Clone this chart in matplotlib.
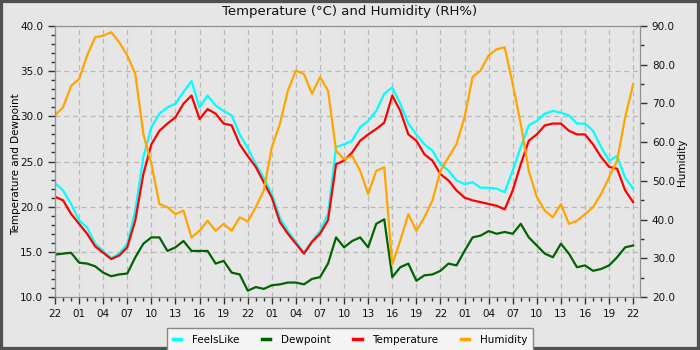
import matplotlib
matplotlib.use('Agg')
import matplotlib.pyplot as plt
from matplotlib.lines import Line2D
from matplotlib.patches import Rectangle
from matplotlib.ticker import MultipleLocator, FormatStrFormatter

# hours since 22:00 on the first day, one reading per hour
hours = list(range(73))

feelslike = [22.6, 21.8, 20.3, 18.5, 17.7, 15.9, 15.1, 14.3, 14.8, 15.9,
             19.6, 25.5, 28.8, 30.3, 31.0, 31.4, 32.7, 33.9, 31.0, 32.3,
             31.2, 30.6, 30.1, 28.0, 26.5, 24.7, 23.2, 21.4, 18.8, 17.3,
             16.1, 14.9, 16.2, 17.3, 19.2, 26.6, 26.9, 27.3, 28.8, 29.5,
             30.6, 32.5, 33.2, 31.4, 29.2, 28.0, 26.9, 26.2, 24.7, 24.0,
             22.9, 22.5, 22.7, 22.1, 22.1, 22.0, 21.6, 24.0, 26.6, 29.0,
             29.5, 30.3, 30.6, 30.4, 30.1, 29.2, 29.2, 28.4, 26.6, 25.1,
             25.6, 23.2, 22.0]

dewpoint = [14.7, 14.8, 14.9, 13.8, 13.7, 13.4, 12.7, 12.3, 12.5, 12.6,
            14.4, 15.9, 16.6, 16.6, 15.1, 15.5, 16.2, 15.1, 15.1, 15.1,
            13.7, 14.0, 12.7, 12.5, 10.7, 11.1, 10.9, 11.3, 11.4, 11.6,
            11.6, 11.4, 12.0, 12.2, 13.7, 16.6, 15.5, 16.2, 16.6, 15.5,
            18.1, 18.6, 12.2, 13.3, 13.7, 11.8, 12.4, 12.5, 12.9, 13.7,
            13.5, 15.1, 16.6, 16.8, 17.3, 17.0, 17.2, 17.0, 18.1, 16.6,
            15.7, 14.8, 14.4, 15.9, 14.8, 13.3, 13.5, 12.9, 13.1, 13.5,
            14.4, 15.5, 15.7]

temperature = [21.1, 20.7, 19.2, 18.1, 17.0, 15.6, 14.9, 14.2, 14.6, 15.5,
               18.5, 23.6, 26.9, 28.4, 29.2, 29.9, 31.4, 32.3, 29.7, 30.8,
               30.3, 29.2, 29.0, 26.9, 25.6, 24.4, 22.7, 21.0, 18.3, 17.0,
               15.9, 14.8, 16.1, 17.0, 18.5, 24.7, 25.1, 26.0, 27.3, 28.0,
               28.6, 29.3, 32.3, 30.6, 28.0, 27.3, 25.8, 25.1, 23.6, 22.9,
               21.8, 21.0, 20.7, 20.5, 20.3, 20.1, 19.7, 21.8, 24.7, 27.3,
               28.0, 29.0, 29.2, 29.2, 28.4, 28.0, 28.0, 26.9, 25.5, 24.4,
               24.2, 21.8, 20.5]

humidity = [66.9, 69.0, 74.5, 76.3, 82.4, 87.1, 87.5, 88.4, 85.8, 82.4,
            77.6, 62.1, 54.4, 44.0, 43.2, 41.4, 42.3, 35.4, 37.1, 39.7,
            37.1, 38.9, 37.1, 40.6, 39.5, 43.2, 47.5, 58.7, 64.7, 73.3,
            78.5, 77.6, 72.5, 76.8, 73.3, 57.8, 55.5, 56.5, 52.6, 46.6,
            52.6, 53.5, 28.5, 34.6, 41.4, 37.1, 40.6, 44.9, 52.6, 56.1,
            59.5, 66.4, 76.8, 78.5, 82.4, 84.0, 84.5, 75.0, 64.7, 52.6,
            45.8, 42.3, 40.6, 44.0, 38.9, 39.7, 41.4, 43.2, 46.6, 50.9,
            55.2, 66.4, 75.0]

hour_labels = ['22', '01', '04', '07', '10', '13', '16', '19'] * 3 + ['22']

bg = '#e6e6e6'
fig = plt.figure(figsize=(7, 3.5), dpi=100)
fig.patch.set_facecolor(bg)

ax = fig.add_axes([0.0786, 0.1514, 0.8357, 0.7743])
ax.set_facecolor(bg)
ax.plot(hours, feelslike, color='#00ffff', lw=1.6)
ax.plot(hours, dewpoint, color='#006400', lw=1.6)
ax.plot(hours, temperature, color='#ff0000', lw=1.6)

ax2 = ax.twinx()
ax2.plot(hours, humidity, color='#ffa500', lw=1.6)

ax.set_xlim(0, 72.85)
ax.set_ylim(10, 40)
ax2.set_ylim(20, 90)

ax.set_xticks(range(0, 73, 3))
ax.set_xticklabels(hour_labels)
ax.xaxis.set_minor_locator(MultipleLocator(1))
ax.yaxis.set_major_locator(MultipleLocator(5))
ax.yaxis.set_minor_locator(MultipleLocator(1))
ax.yaxis.set_major_formatter(FormatStrFormatter('%.1f'))
ax2.yaxis.set_major_locator(MultipleLocator(10))
ax2.yaxis.set_minor_locator(MultipleLocator(5))
ax2.yaxis.set_major_formatter(FormatStrFormatter('%.1f'))

for a in (ax, ax2):
    a.tick_params(which='major', length=5, width=1, color='#333333', labelsize=7.5, labelcolor='#111111')
    a.tick_params(which='minor', length=3, width=1, color='#333333')
    for s in a.spines.values():
        s.set_color('#909090')

ax.grid(True, which='major', color='#b8b8b8', linestyle=(0, (4, 3)), linewidth=0.9)

fig.text(0.5, 0.966, 'Temperature (°C) and Humidity (RH%)', ha='center', va='center', fontsize=9.5, color='#111111')
fig.text(0.023, 0.53, 'Temperature and Dewpoint', rotation=90, ha='center', va='center', fontsize=7.5)
fig.text(0.974, 0.537, 'Humidity', rotation=90, ha='center', va='center', fontsize=7.5)

handles = [Line2D([], [], color=c, lw=2.5) for c in ['#00ffff', '#006400', '#ff0000', '#ffa500']]
leg = fig.legend(handles, ['FeelsLike', 'Dewpoint', 'Temperature', 'Humidity'],
                 loc='upper center', bbox_to_anchor=(0.5, 0.077), ncol=4, fontsize=7.5,
                 frameon=True, fancybox=False, edgecolor='#888888', facecolor='#f4f4f4',
                 framealpha=1, handlelength=0.8, handletextpad=1.0, columnspacing=2.2,
                 borderpad=0.6)
leg.get_frame().set_linewidth(1.0)

fig.patches.append(Rectangle((0, 0), 1, 1, transform=fig.transFigure, fill=False,
                             edgecolor='#505050', lw=4.5, clip_on=False))

fig.savefig('out.png', dpi=100, facecolor=bg)
